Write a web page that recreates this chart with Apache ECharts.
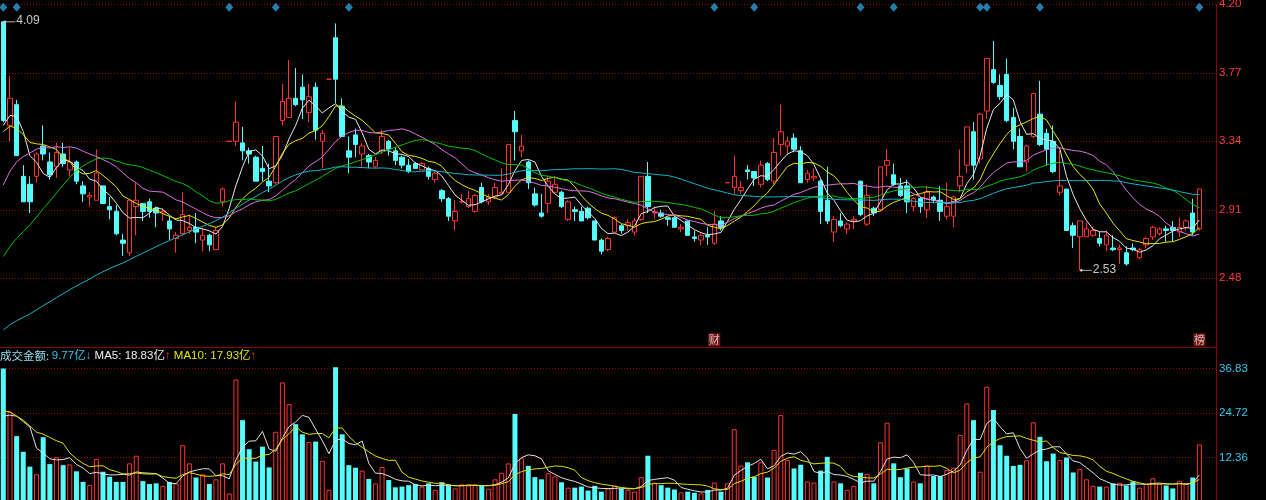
<!DOCTYPE html>
<html><head><meta charset="utf-8">
<script src="https://cdn.jsdelivr.net/npm/echarts@6/dist/echarts.min.js"></script>
<style>html,body{margin:0;padding:0;background:#000;}#c{width:1266px;height:500px;}</style>
</head><body><div id="c"></div>
<script>
// ---- daily bars ----
const opens = [4.09,3.44,3.57,3.12,3.07,3.12,3.31,3.21,3.18,3.26,
3.16,3.21,3.06,2.99,2.97,3.06,2.93,2.90,2.72,2.64,
2.93,2.95,2.96,2.92,2.89,2.84,2.73,2.76,2.78,2.80,
2.72,2.75,2.66,2.96,3.34,3.34,3.33,3.28,3.24,3.17,
3.09,3.08,3.47,3.49,3.61,3.68,3.52,3.68,3.34,3.73,
3.99,3.56,3.28,3.38,3.26,3.25,3.18,3.28,3.34,3.28,
3.24,3.19,3.20,3.16,3.17,3.10,3.03,2.98,2.84,2.96,
2.93,2.90,3.05,2.96,2.99,3.01,3.02,3.47,3.28,3.21,
3.01,2.89,2.95,3.02,3.02,2.85,2.91,2.90,2.92,2.84,
2.72,2.66,2.77,2.81,2.81,2.77,2.85,3.12,2.89,2.89,
2.86,2.86,2.79,2.84,2.74,2.72,2.75,2.70,2.84,3.08,
3.05,3.03,3.16,3.15,3.07,3.20,3.09,3.32,3.31,3.36,
3.28,3.10,3.11,3.09,2.97,2.77,2.84,2.79,2.84,3.09,
2.82,2.92,2.91,3.19,3.13,3.06,3.06,2.93,2.98,2.91,
2.99,2.97,2.87,2.87,3.06,3.19,3.40,3.23,3.53,3.79,
3.69,3.76,3.49,3.37,3.21,3.37,3.51,3.39,3.34,3.02,
3.04,2.81,2.74,2.74,2.75,2.73,2.69,2.67,2.66,2.64,
2.67,2.61,2.69,2.74,2.76,2.79,2.80,2.77,2.80,2.89,
2.79];
const closes = [3.47,3.61,3.25,2.96,2.96,3.26,3.26,3.13,3.27,3.20,
3.21,3.09,3.01,3.00,3.14,2.95,2.91,2.76,2.70,2.97,
2.97,2.90,2.90,2.89,2.90,2.79,2.75,2.88,2.80,2.77,
2.75,2.69,2.78,3.04,3.34,3.46,3.28,3.26,3.09,3.15,
3.06,3.37,3.59,3.61,3.57,3.60,3.62,3.41,3.39,3.73,
3.73,3.37,3.24,3.32,3.31,3.21,3.22,3.37,3.29,3.22,
3.19,3.15,3.17,3.20,3.12,3.14,2.98,2.87,2.90,2.96,
2.98,3.00,2.96,2.99,3.05,3.02,3.32,3.40,3.31,3.08,
2.94,2.87,3.09,3.07,2.93,2.96,2.90,2.84,2.86,2.72,
2.65,2.73,2.86,2.78,2.83,2.84,3.12,2.93,2.90,2.87,
2.85,2.80,2.80,2.75,2.73,2.75,2.74,2.82,2.80,3.08,
3.12,3.05,3.15,3.11,3.19,3.10,3.27,3.40,3.34,3.29,
3.08,3.14,3.12,2.90,2.84,2.85,2.81,2.82,2.85,2.88,
3.00,2.89,3.18,3.22,3.07,3.00,2.96,2.98,2.93,3.02,
2.97,2.90,2.93,2.99,3.12,3.43,3.19,3.51,3.86,3.71,
3.62,3.47,3.34,3.18,3.31,3.64,3.32,3.29,3.15,3.06,
2.78,2.75,2.84,2.79,2.78,2.70,2.75,2.66,2.67,2.57,
2.66,2.66,2.73,2.80,2.79,2.78,2.78,2.80,2.84,2.77,
3.04];
const highs = [4.09,3.75,3.60,3.19,3.12,3.27,3.44,3.27,3.33,3.33,
3.30,3.22,3.09,3.02,3.29,3.06,2.99,2.94,2.76,2.97,
3.08,2.95,2.98,2.93,2.92,2.87,2.77,3.02,2.88,2.89,
2.80,2.76,2.80,3.05,3.34,3.59,3.43,3.30,3.25,3.31,
3.20,3.37,3.70,3.85,3.80,3.76,3.70,3.71,3.41,3.73,
4.08,3.61,3.37,3.42,3.33,3.26,3.24,3.41,3.35,3.30,
3.25,3.23,3.21,3.21,3.18,3.15,3.04,2.99,2.97,3.01,
3.03,3.01,3.08,3.01,3.08,3.17,3.32,3.53,3.38,3.22,
3.05,3.01,3.12,3.12,3.03,2.97,2.93,2.93,2.93,2.84,
2.73,2.74,2.87,2.82,2.85,2.86,3.12,3.21,2.93,2.91,
2.87,2.87,2.82,2.84,2.78,2.76,2.80,2.90,2.87,3.08,
3.25,3.09,3.19,3.15,3.22,3.21,3.36,3.57,3.37,3.39,
3.31,3.16,3.17,3.10,3.18,2.87,2.89,2.83,2.87,3.09,
3.07,2.93,3.18,3.29,3.20,3.11,3.10,2.99,2.99,3.06,
3.00,3.06,3.08,3.00,3.29,3.43,3.46,3.52,3.86,3.97,
3.76,3.86,3.55,3.42,3.32,3.64,3.72,3.42,3.44,3.28,
3.04,2.83,2.84,2.83,2.80,2.77,2.78,2.75,2.69,2.68,
2.70,2.67,2.74,2.81,2.80,2.81,2.84,2.86,2.85,2.98,
3.04];
const lows = [3.46,3.34,3.25,2.96,2.89,3.08,3.22,3.10,3.11,3.18,
3.12,3.07,2.96,2.93,2.97,2.95,2.85,2.75,2.62,2.62,
2.75,2.84,2.86,2.80,2.84,2.72,2.64,2.75,2.76,2.70,
2.65,2.65,2.66,2.93,3.34,3.31,3.22,3.20,3.09,3.09,
3.02,3.07,3.44,3.49,3.56,3.48,3.46,3.35,3.17,3.73,
3.58,3.37,3.14,3.24,3.18,3.17,3.17,3.26,3.25,3.19,
3.17,3.14,3.17,3.16,3.10,3.08,2.96,2.84,2.78,2.95,
2.92,2.89,2.95,2.94,2.98,3.01,3.02,3.22,3.24,3.04,
2.93,2.86,2.89,3.01,2.92,2.84,2.84,2.84,2.85,2.72,
2.63,2.65,2.77,2.76,2.78,2.75,2.84,2.89,2.85,2.86,
2.81,2.80,2.77,2.75,2.71,2.69,2.69,2.69,2.78,3.08,
3.01,3.01,3.10,3.06,3.05,3.09,3.07,3.25,3.26,3.27,
3.08,3.08,3.09,2.82,2.82,2.71,2.80,2.76,2.79,2.87,
2.81,2.87,2.90,3.12,3.06,2.99,2.89,2.90,2.89,2.86,
2.95,2.84,2.85,2.80,3.02,3.14,3.10,3.20,3.48,3.70,
3.60,3.46,3.29,3.18,3.15,3.36,3.31,3.19,3.14,3.00,
2.78,2.67,2.53,2.74,2.74,2.68,2.65,2.65,2.57,2.56,
2.65,2.60,2.67,2.72,2.75,2.71,2.71,2.74,2.78,2.75,
2.78];
// turnover (成交金额, 亿)
const amounts = [36.8,24.9,18.2,13.9,9.8,7.7,17.9,10.5,12.4,10.2,
10.4,8.5,5.6,4.7,11.9,8.4,7.0,5.6,5.6,10.7,
12.8,5.8,5.0,5.2,4.5,5.6,5.2,15.7,10.7,6.8,
7.7,5.0,6.3,10.7,2.4,33.8,22.6,14.6,11.2,15.3,
9.6,19.4,33.0,27.0,21.5,18.7,16.6,16.7,11.4,3.4,
37.2,18.7,10.2,9.5,8.7,6.4,5.2,9.7,6.1,4.1,
4.3,4.7,5.0,4.3,5.2,3.4,5.5,4.9,3.8,4.9,
4.6,4.9,4.6,3.7,6.3,8.1,10.7,24.3,12.1,10.0,
6.9,6.3,8.0,7.1,5.5,4.0,4.0,4.3,3.2,4.5,
2.9,3.8,4.6,3.8,3.4,2.9,6.9,12.8,5.4,4.7,
4.0,3.5,2.7,2.9,2.6,2.4,3.4,5.4,2.9,5.2,
20.1,10.1,11.0,7.0,11.0,6.8,14.4,24.0,11.6,9.3,
10.3,5.7,5.4,8.7,12.5,5.7,5.2,3.4,4.5,8.1,
7.8,5.2,16.5,21.9,10.7,6.9,9.3,5.7,5.2,10.1,
7.2,7.2,8.9,9.5,18.5,27.2,22.6,8.4,31.8,25.4,
15.7,12.8,10.0,10.3,11.6,22.0,18.0,11.3,13.4,11.6,
12.3,8.2,9.1,6.3,4.5,4.3,4.3,5.2,5.4,4.6,
5.7,4.0,5.0,6.6,5.0,4.6,3.8,5.9,5.2,6.8,
15.9];
// closes / turnover before the visible window, estimated from where the MA lines start
const warmupCloses = [1.66,1.68,1.70,1.71,1.69,1.67,1.68,1.70,1.72,1.71,
1.69,1.68,1.70,1.69,1.67,1.68,1.70,1.71,1.72,1.70,
1.69,1.68,1.70,1.71,1.69,1.70,1.72,1.71,1.69,1.70,
1.70,1.72,1.69,1.71,1.74,1.73,1.70,1.72,1.72,1.73,
1.89,2.08,2.29,2.52,2.77,3.05,3.20,3.10,3.30,3.12,
3.25,3.40,3.35,3.45,3.35,
3.30,3.28,3.43,3.72];
const warmupAmounts = [28,30,25,26,24.5,23.4,19.7,21.4,17.2];

const maPeriods = [5,10,20,30,60];
const maColors = ['#e8e8e8','#e6e600','#e070e0','#00c000','#14b4c8'];
const volMaPeriods = [5,10];
const volMaColors = ['#e0e0e0','#e0e000'];
const priceTickMin = 2.05, priceTickMax = 4.20, priceTickStep = 0.43;
const volTickLabels = ['12.36','24.72','36.83'];
const eventIdx = [0,2,34,41,52,107,113,129,134,147,148,156,180];
const tagIdx = [107,180];
const tagText = ['财','榜'];
const legendAmount = '9.77亿';
const legendMa5 = '18.83亿';
const legendMa10 = '17.93亿';

const RED = '#ff3232', CYAN = '#54fcfc';
const padSlots = 2;
const cats = [];
for (let i = 0; i < closes.length + padSlots; i++) cats.push(String(i));

function movingAvg(warm, vals, n) {
  const all = warm.concat(vals), off = warm.length;
  return vals.map((_, i) => {
    const end = off + i;
    if (end - n + 1 < 0) return '-';
    let s = 0;
    for (let k = end - n + 1; k <= end; k++) s += all[k];
    return +(s / n).toFixed(4);
  });
}

const candleData = opens.map((o, i) => [o, closes[i], lows[i], highs[i]]);
const volData = amounts.map((v, i) => {
  const up = closes[i] >= opens[i];
  return { value: v, itemStyle: up ? { color: '#000', borderColor: RED, borderWidth: 1 } : { color: CYAN, borderColor: CYAN, borderWidth: 0 } };
});

let hiIdx = 0, loIdx = 0;
highs.forEach((h, i) => { if (h > highs[hiIdx]) hiIdx = i; });
lows.forEach((l, i) => { if (l < lows[loIdx]) loIdx = i; });

const series = [
  { type: 'candlestick', xAxisIndex: 0, yAxisIndex: 0, data: candleData, barWidth: 5,
    itemStyle: { color: '#000', color0: CYAN, borderColor: RED, borderColor0: CYAN, borderColorDoji: RED, borderWidth: 1 },
    silent: true }
];
maPeriods.forEach((n, k) => {
  series.push({ type: 'line', xAxisIndex: 0, yAxisIndex: 0, data: movingAvg(warmupCloses, closes, n),
    symbol: 'none', smooth: false, lineStyle: { width: 1, color: maColors[k] }, itemStyle: { color: maColors[k] }, z: 3, silent: true });
});
series.push({ type: 'bar', xAxisIndex: 1, yAxisIndex: 1, data: volData, barWidth: 5, silent: true });
volMaPeriods.forEach((n, k) => {
  series.push({ type: 'line', xAxisIndex: 1, yAxisIndex: 1, data: movingAvg(warmupAmounts, amounts, n),
    symbol: 'none', lineStyle: { width: 1, color: volMaColors[k] }, itemStyle: { color: volMaColors[k] }, z: 3, silent: true });
});
// high / low annotations
series.push({ type: 'custom', xAxisIndex: 0, yAxisIndex: 0, z: 6, silent: true,
  data: [[hiIdx, highs[hiIdx]], [loIdx, lows[loIdx]]],
  renderItem: (params, api) => {
    const p = api.coord([api.value(0), api.value(1)]);
    return { type: 'group', children: [
      { type: 'line', shape: { x1: p[0] + 1, y1: p[1], x2: p[0] + 12, y2: p[1] }, style: { stroke: '#b0b0b0', lineWidth: 1 } },
      { type: 'circle', shape: { cx: p[0] + 1.5, cy: p[1], r: 1.3 }, style: { fill: '#d0d0d0' } },
      { type: 'text', x: p[0] + 13, y: p[1] - 1, style: { text: api.value(1).toFixed(2), fill: '#c8c8c8', font: '12px "Liberation Sans", Arial, sans-serif', verticalAlign: 'middle' } }
    ] };
  } });
// event diamonds along the top
series.push({ type: 'scatter', xAxisIndex: 0, yAxisIndex: 0, z: 6, silent: true,
  data: eventIdx.map(i => [i, priceTickMax]), symbol: 'diamond', symbolSize: [8, 9], symbolOffset: [0, 3],
  itemStyle: { color: '#2a9fd8' } });
// 财 / 榜 tags along the bottom of the price pane
series.push({ type: 'scatter', xAxisIndex: 0, yAxisIndex: 0, z: 6, silent: true,
  data: tagIdx.map(i => [i, priceTickMin]), symbol: 'rect', symbolSize: [12, 13], symbolOffset: [0, -7],
  itemStyle: { color: '#8e2020' },
  label: { show: true, position: 'inside', color: '#f4d8d8', fontSize: 11, fontFamily: '"Noto Sans CJK SC", sans-serif',
    formatter: p => tagText[p.dataIndex] } });

const gridLine = { color: '#9a0000', type: [1, 2], width: 1 };
const axisLineRed = { show: true, lineStyle: { color: '#8b0000', width: 1 } };
const volStep = 36.83 / 3;

const option = {
  backgroundColor: '#000',
  animation: false,
  title: {
    left: 0, top: 350, padding: 0,
    text: '{a|成交金额: }{b|' + legendAmount + '↓} {c|MA5: ' + legendMa5 + '}{d|↑} {e|MA10: ' + legendMa10 + '}{d|↑}',
    textStyle: { fontSize: 11.5, fontFamily: '"Liberation Sans","Noto Sans CJK SC",sans-serif', fontWeight: 'normal',
      rich: {
        a: { color: '#92dff0', fontSize: 11.5, fontFamily: '"Noto Sans CJK SC",sans-serif' },
        b: { color: '#38c8f0', fontSize: 11.5, fontFamily: '"Liberation Sans","Noto Sans CJK SC",sans-serif' },
        c: { color: '#f0f0f0', fontSize: 11.5, fontFamily: '"Liberation Sans","Noto Sans CJK SC",sans-serif' },
        d: { color: RED, fontSize: 11.5, fontFamily: '"Liberation Sans","Noto Sans CJK SC",sans-serif' },
        e: { color: '#e6e600', fontSize: 11.5, fontFamily: '"Liberation Sans","Noto Sans CJK SC",sans-serif' }
      } }
  },
  grid: [
    { left: 0, right: 50, top: 4.3, height: 342.5, outerBoundsMode: 'none' },
    { left: 0, right: 50, top: 348, height: 154.2, outerBoundsMode: 'none' }
  ],
  xAxis: [
    { type: 'category', gridIndex: 0, data: cats, boundaryGap: true, axisLine: axisLineRed, axisTick: { show: false }, axisLabel: { show: false }, splitLine: { show: false } },
    { type: 'category', gridIndex: 1, data: cats, boundaryGap: true, axisLine: { show: false }, axisTick: { show: false }, axisLabel: { show: false }, splitLine: { show: false } }
  ],
  yAxis: [
    { type: 'value', gridIndex: 0, position: 'right', min: priceTickMin, max: priceTickMax, interval: priceTickStep,
      axisLine: axisLineRed, axisTick: { show: false },
      axisLabel: { color: '#ff3c3c', fontSize: 11.5, margin: 3, showMinLabel: false, fontFamily: '"Liberation Sans", Arial, sans-serif',
        formatter: v => v.toFixed(2) },
      splitLine: { show: true, showMinLine: false, lineStyle: gridLine } },
    { type: 'value', gridIndex: 1, position: 'right', min: 0, max: 42.48, interval: volStep,
      axisLine: axisLineRed, axisTick: { show: false },
      axisLabel: { color: '#38c8f0', fontSize: 11.5, margin: 3, showMinLabel: false, showMaxLabel: false, fontFamily: '"Liberation Sans", Arial, sans-serif',
        formatter: v => { const k = Math.round(v / volStep); return (k >= 1 && k <= 3) ? volTickLabels[k - 1] : ''; } },
      splitLine: { show: true, showMinLine: false, showMaxLine: false, lineStyle: gridLine } }
  ],
  series: series
};
const chart = echarts.init(document.getElementById('c'), null, { renderer: 'canvas' });
chart.setOption(option);
</script></body></html>
